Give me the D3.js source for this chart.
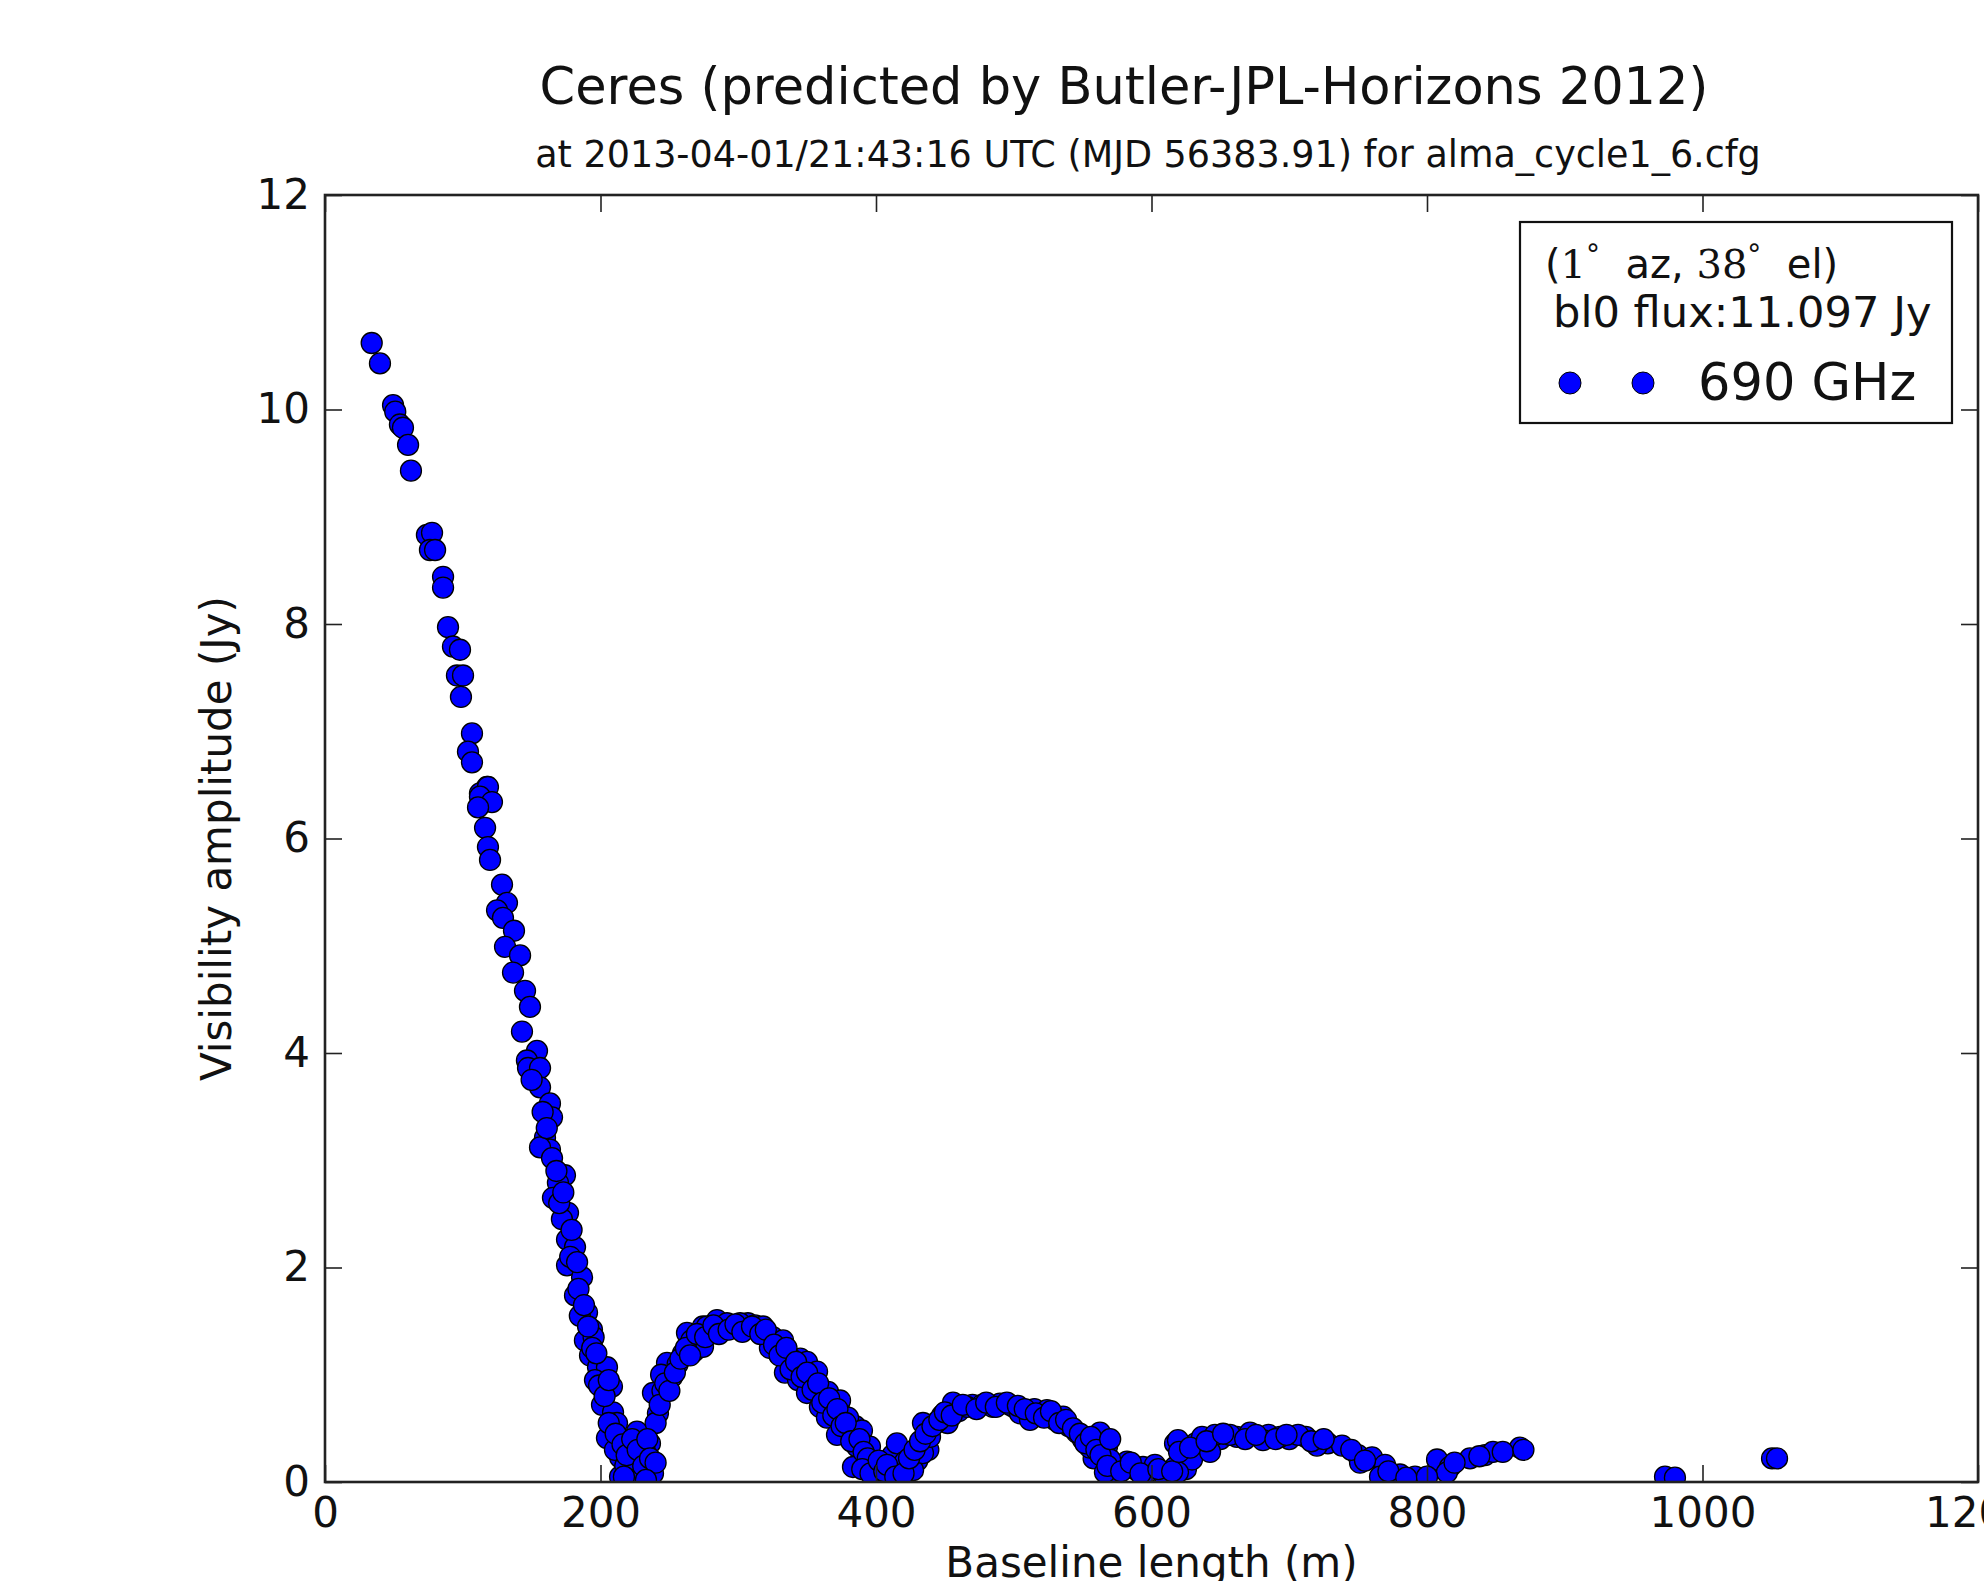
<!DOCTYPE html>
<html>
<head>
<meta charset="utf-8">
<script src="https://cdn.jsdelivr.net/npm/d3@7/dist/d3.min.js"></script>
<style>
  html, body { margin: 0; padding: 0; background: #fff; }
  svg { display: block; }
  text { font-family: "DejaVu Sans", sans-serif; fill: #111; }
</style>
</head>
<body>
<svg id="chart" width="1984" height="1581"></svg>
<script>
// ---------- data ----------
const titleText = "Ceres (predicted by Butler-JPL-Horizons 2012)";
const subtitleText = "at 2013-04-01/21:43:16 UTC (MJD 56383.91) for alma_cycle1_6.cfg";
const xLabel = "Baseline length (m)";
const yLabel = "Visibility amplitude (Jy)";
const xTicks = [0, 200, 400, 600, 800, 1000, 1200];
const yTicks = [0, 2, 4, 6, 8, 10, 12];
const legendLine2 = "bl0 flux:11.097 Jy";
const seriesName = "690 GHz";

// baseline length (m)
const baselines = [
  33.9, 39.9, 49.4, 51.0, 54.4, 56.6, 60.3, 62.4, 74.0, 77.7, 76.2, 79.9, 85.7, 85.7, 89.3, 92.9,
  98.0, 95.8, 100.2, 98.7, 106.7, 103.8, 106.7, 117.6, 112.5,
  118.3, 112.5, 121.2, 111.1, 116.2, 118.3, 119.8, 128.5, 132.1, 124.9, 129.2, 137.2, 130.7, 141.6,
  136.5, 145.2, 148.8, 143.0, 153.9, 146.6, 147.4, 156.1, 156.1, 163.3, 164.8, 159.7, 163.3,
  156.1, 164.8, 174.2, 169.1, 165.5, 176.4, 175.7, 181.5, 175.7, 186.6, 181.5, 190.2, 193.8, 188.7,
  192.4, 198.2, 204.7, 208.3, 201.1, 209.1, 204.7, 226.5, 214.2, 228.7, 214.2, 225.0, 235.9, 238.1,
  238.1, 241.7, 251.9, 248.3, 259.9, 262.8, 273.7, 274.4, 284.6,
  210.5, 218.0, 220.0, 222.0, 230.0, 232.0, 212.0, 196.0, 185.0, 195.0, 178.0, 172.0, 168.0,
  245.0, 244.0, 256.0, 266.0, 268.0, 280.0, 288.0, 295.0, 305.0, 307.0, 315.0, 325.0, 328.0,
  340.0, 345.0, 352.0, 355.0, 362.0, 368.0, 376.0, 380.0, 385.0, 398.0, 400.0, 410.0, 412.0,
  418.0, 430.0, 438.0, 448.0, 452.0, 460.0, 470.0, 490.0, 500.0, 515.0, 520.0, 530.0, 540.0,
  550.0, 558.0, 572.0, 575.0, 588.0, 598.0, 610.0, 625.0, 632.0, 650.0, 662.0, 685.0, 700.0,
  712.0, 728.0,
  277.3, 291.8, 301.3, 312.2, 318.0, 274.4, 323.0, 332.5, 337.6, 349.9, 333.9, 343.4, 357.2,
  365.2, 349.9, 359.3, 373.9, 364.4, 379.7, 389.8, 371.7, 386.2, 395.6, 392.0, 383.3, 404.4,
  415.2, 421.1, 426.9, 434.1, 439.2, 444.3, 434.1, 455.9, 466.1, 477.0, 484.9, 497.3, 504.5,
  511.8, 524.1, 535.8, 545.9, 555.4, 562.6, 567.7, 566.2, 582.2, 593.8, 602.5, 617.1, 617.1, 569.9,
  619.2, 629.4, 619.2, 636.7, 646.1, 657.0, 671.5, 680.9, 693.3, 706.4, 720.1, 642.5, 738.3,
  749.9, 751.4, 760.1, 769.5, 765.9, 780.4, 791.3, 807.3, 816.7, 814.5, 831.2, 842.1, 847.9, 867.5,
  972.8, 980.0, 1050.5, 1054.1,
  // extra points filling the dense bands
  240.0, 243.0, 247.0, 250.0, 254.0, 258.0, 262.0, 265.0, 270.0, 276.0, 282.0, 286.0, 293.0,
  298.0, 303.0, 310.0, 316.0, 320.0,
  326.0, 330.0, 335.0, 338.0, 342.0, 346.0, 350.0, 354.0, 358.0, 361.0, 366.0, 369.0, 372.0,
  375.0, 378.0, 382.0, 388.0, 391.0, 394.0, 390.0, 396.0, 402.0, 406.0, 408.0, 414.0, 420.0,
  424.0, 428.0, 432.0, 436.0, 441.0, 446.0, 450.0, 455.0, 463.0, 473.0, 480.0, 487.0, 495.0,
  503.0, 508.0, 516.0, 522.0, 527.0, 533.0, 538.0, 543.0, 548.0, 552.0, 556.0, 560.0, 563.0,
  568.0, 570.0, 578.0, 585.0, 592.0, 605.0, 615.0, 620.0, 628.0, 640.0, 652.0, 668.0, 676.0,
  690.0, 698.0, 716.0, 725.0, 745.0, 755.0, 772.0, 785.0, 800.0, 820.0, 838.0, 855.0, 870.0,
  206.0, 211.0, 216.0, 219.0, 223.0, 227.0, 231.0, 234.0, 236.0, 240.0, 217.0, 233.0,
  150.0, 158.0, 161.0, 170.0, 173.0, 179.0, 183.0, 184.0, 188.0, 191.0, 194.0, 197.0, 199.0,
  203.0, 206.0
];

// visibility amplitude (Jy)
const amplitudes = [
  10.62, 10.43, 10.04, 9.98, 9.86, 9.83, 9.67, 9.43, 8.83, 8.85, 8.69, 8.69, 8.44, 8.34, 7.97, 7.79,
  7.76, 7.52, 7.52, 7.32, 6.98, 6.81, 6.71, 6.48, 6.42,
  6.48, 6.39, 6.34, 6.29, 6.10, 5.92, 5.80, 5.57, 5.40, 5.33, 5.26, 5.14, 4.99, 4.91,
  4.75, 4.58, 4.43, 4.20, 4.02, 3.93, 3.86, 3.86, 3.68, 3.53, 3.40, 3.21, 3.10,
  3.12, 3.02, 2.86, 2.79, 2.65, 2.51, 2.26, 2.19, 2.02, 1.91, 1.74, 1.58, 1.42, 1.32,
  1.18, 1.07, 1.07, 0.89, 0.72, 0.65, 0.41, 0.47, 0.23, 0.21, 0.05, 0.08, 0.36, 0.08,
  0.83, 0.64, 0.98, 1.11, 1.20, 1.39, 1.28, 1.45, 1.51,
  0.30, 0.15, 0.38, 0.02, 0.05, 0.30, 0.55, 0.95, 1.55, 1.35, 2.10, 2.45, 2.90,
  0.85, 1.00, 1.10, 1.32, 1.22, 1.42, 1.43, 1.46, 1.44, 1.48, 1.40, 1.35, 1.22,
  1.08, 1.15, 0.98, 0.90, 0.78, 0.70, 0.62, 0.45, 0.52, 0.18, 0.05, 0.08, 0.25,
  0.12, 0.20, 0.30, 0.62, 0.55, 0.66, 0.72, 0.73, 0.70, 0.68, 0.62, 0.58, 0.52,
  0.40, 0.22, 0.05, 0.15, 0.12, 0.10, 0.05, 0.12, 0.36, 0.40, 0.42, 0.44, 0.40,
  0.42, 0.36,
  1.45, 1.48, 1.48, 1.46, 1.45, 1.26, 1.25, 1.32, 1.16, 1.12, 1.02, 0.95, 1.03,
  0.84, 0.83, 0.70, 0.76, 0.60, 0.60, 0.48, 0.44, 0.33, 0.33, 0.21, 0.14, 0.13,
  0.36, 0.19, 0.11, 0.27, 0.42, 0.56, 0.55, 0.74, 0.70, 0.72, 0.70, 0.72, 0.64,
  0.58, 0.67, 0.61, 0.46, 0.32, 0.46, 0.33, 0.09, 0.19, 0.14, 0.16, 0.36, 0.14, 0.21,
  0.39, 0.21, 0.09, 0.42, 0.44, 0.44, 0.46, 0.39, 0.42, 0.44, 0.34, 0.28, 0.34,
  0.25, 0.18, 0.23, 0.16, 0.05, 0.07, 0.05, 0.21, 0.14, 0.09, 0.22, 0.25, 0.28, 0.32,
  0.05, 0.04, 0.22, 0.22,
  // extra points filling the dense bands
  0.55, 0.72, 0.92, 0.85, 1.02, 1.15, 1.25, 1.18, 1.38, 1.35, 1.46, 1.38, 1.42,
  1.47, 1.40, 1.45, 1.38, 1.42,
  1.28, 1.18, 1.25, 1.05, 1.12, 0.98, 1.02, 0.86, 0.92, 0.74, 0.78, 0.62, 0.68,
  0.52, 0.55, 0.38, 0.40, 0.28, 0.22, 0.12, 0.08, 0.20, 0.10, 0.16, 0.05, 0.08,
  0.22, 0.30, 0.38, 0.45, 0.52, 0.58, 0.65, 0.62, 0.72, 0.68, 0.74, 0.70, 0.74,
  0.71, 0.68, 0.64, 0.60, 0.66, 0.55, 0.58, 0.50, 0.45, 0.36, 0.42, 0.30, 0.25,
  0.15, 0.40, 0.10, 0.18, 0.08, 0.12, 0.10, 0.28, 0.32, 0.38, 0.45, 0.40, 0.44,
  0.40, 0.44, 0.38, 0.40, 0.30, 0.20, 0.10, 0.04, 0.05, 0.18, 0.24, 0.28, 0.30,
  0.55, 0.45, 0.35, 0.25, 0.40, 0.30, 0.15, 0.40, 0.22, 0.18, 0.05, 0.02,
  3.75, 3.45, 3.30, 2.60, 2.70, 2.35, 2.05, 1.80, 1.65, 1.45, 1.25, 1.20, 0.90,
  0.80, 0.95
];

// ---------- drawing ----------
const W = 1984, H = 1581;
const plot = { left: 325, right: 1978, top: 195, bottom: 1482 };
const svg = d3.select("#chart");
svg.append("rect").attr("width", W).attr("height", H).attr("fill", "#fff");

const x = d3.scaleLinear().domain([0, 1200]).range([plot.left, plot.right]);
const y = d3.scaleLinear().domain([0, 12]).range([plot.bottom, plot.top]);

// clip path for markers
svg.append("defs").append("clipPath").attr("id", "plotclip")
  .append("rect")
  .attr("x", plot.left).attr("y", plot.top)
  .attr("width", plot.right - plot.left).attr("height", plot.bottom - plot.top);

const pts = baselines.map((b, i) => ({ b, a: amplitudes[i] }));
svg.append("g").attr("clip-path", "url(#plotclip)")
  .selectAll("circle").data(pts).enter().append("circle")
  .attr("cx", d => x(d.b)).attr("cy", d => y(d.a))
  .attr("r", 10.5)
  .attr("fill", "#0000ff")
  .attr("stroke", "#000")
  .attr("stroke-width", 1.3);

// axes (inward ticks, matplotlib classic style)
const tickLen = 17;
const fmt = d3.format("d");
const gx = svg.append("g").attr("transform", `translate(0,${plot.bottom})`)
  .call(d3.axisBottom(x).tickValues(xTicks).tickFormat(fmt).tickSize(-tickLen).tickSizeOuter(0).tickPadding(15));
const gy = svg.append("g").attr("transform", `translate(${plot.left},0)`)
  .call(d3.axisLeft(y).tickValues(yTicks).tickFormat(fmt).tickSize(-tickLen).tickSizeOuter(0).tickPadding(15));
const gt = svg.append("g").attr("transform", `translate(0,${plot.top})`)
  .call(d3.axisTop(x).tickValues(xTicks).tickFormat("").tickSize(-tickLen).tickSizeOuter(0));
const gr = svg.append("g").attr("transform", `translate(${plot.right},0)`)
  .call(d3.axisRight(y).tickValues(yTicks).tickFormat("").tickSize(-tickLen).tickSizeOuter(0));

[gx, gy, gt, gr].forEach(g => {
  g.select(".domain").remove();
  g.selectAll(".tick line").attr("stroke", "#222").attr("stroke-width", 1.6);
  g.selectAll(".tick text")
    .attr("font-family", "DejaVu Sans")
    .attr("font-size", 42)
    .attr("fill", "#111");
});

// frame
svg.append("rect")
  .attr("x", plot.left).attr("y", plot.top)
  .attr("width", plot.right - plot.left).attr("height", plot.bottom - plot.top)
  .attr("fill", "none").attr("stroke", "#222").attr("stroke-width", 2.6);

// titles
svg.append("text").attr("x", 1124).attr("y", 104)
  .attr("text-anchor", "middle").attr("font-size", 51).text(titleText);
svg.append("text").attr("x", 1148).attr("y", 167)
  .attr("text-anchor", "middle").attr("font-size", 36.5).text(subtitleText);

// axis labels
svg.append("text").attr("x", (plot.left + plot.right) / 2).attr("y", 1577)
  .attr("text-anchor", "middle").attr("font-size", 42).text(xLabel);
svg.append("text")
  .attr("transform", `translate(231,${(plot.top + plot.bottom) / 2}) rotate(-90)`)
  .attr("text-anchor", "middle").attr("font-size", 42).text(yLabel);

// legend
const lg = svg.append("g");
lg.append("rect").attr("x", 1520).attr("y", 222).attr("width", 432).attr("height", 201)
  .attr("fill", "#fff").attr("stroke", "#111").attr("stroke-width", 2.2);
const l1 = lg.append("text").attr("x", 1545).attr("y", 278).attr("font-size", 40)
  .attr("xml:space", "preserve").style("white-space", "pre");
l1.append("tspan").text("(");
l1.append("tspan").attr("font-family", "DejaVu Serif").text("1");
l1.append("tspan").attr("font-size", 28).attr("dy", -14).text("°");
l1.append("tspan").attr("dy", 14).text("  az, ");
l1.append("tspan").attr("font-family", "DejaVu Serif").text("38");
l1.append("tspan").attr("font-size", 28).attr("dy", -14).text("°");
l1.append("tspan").attr("dy", 14).text("  el)");
lg.append("text").attr("x", 1553).attr("y", 327).attr("font-size", 43.2).text(legendLine2);
lg.selectAll("circle.leg").data([1570, 1643]).enter().append("circle")
  .attr("class", "leg")
  .attr("cx", d => d).attr("cy", 383).attr("r", 11)
  .attr("fill", "#0000ff").attr("stroke", "#000").attr("stroke-width", 1);
lg.append("text").attr("x", 1698).attr("y", 400).attr("font-size", 51).text(seriesName);
</script>
</body>
</html>
